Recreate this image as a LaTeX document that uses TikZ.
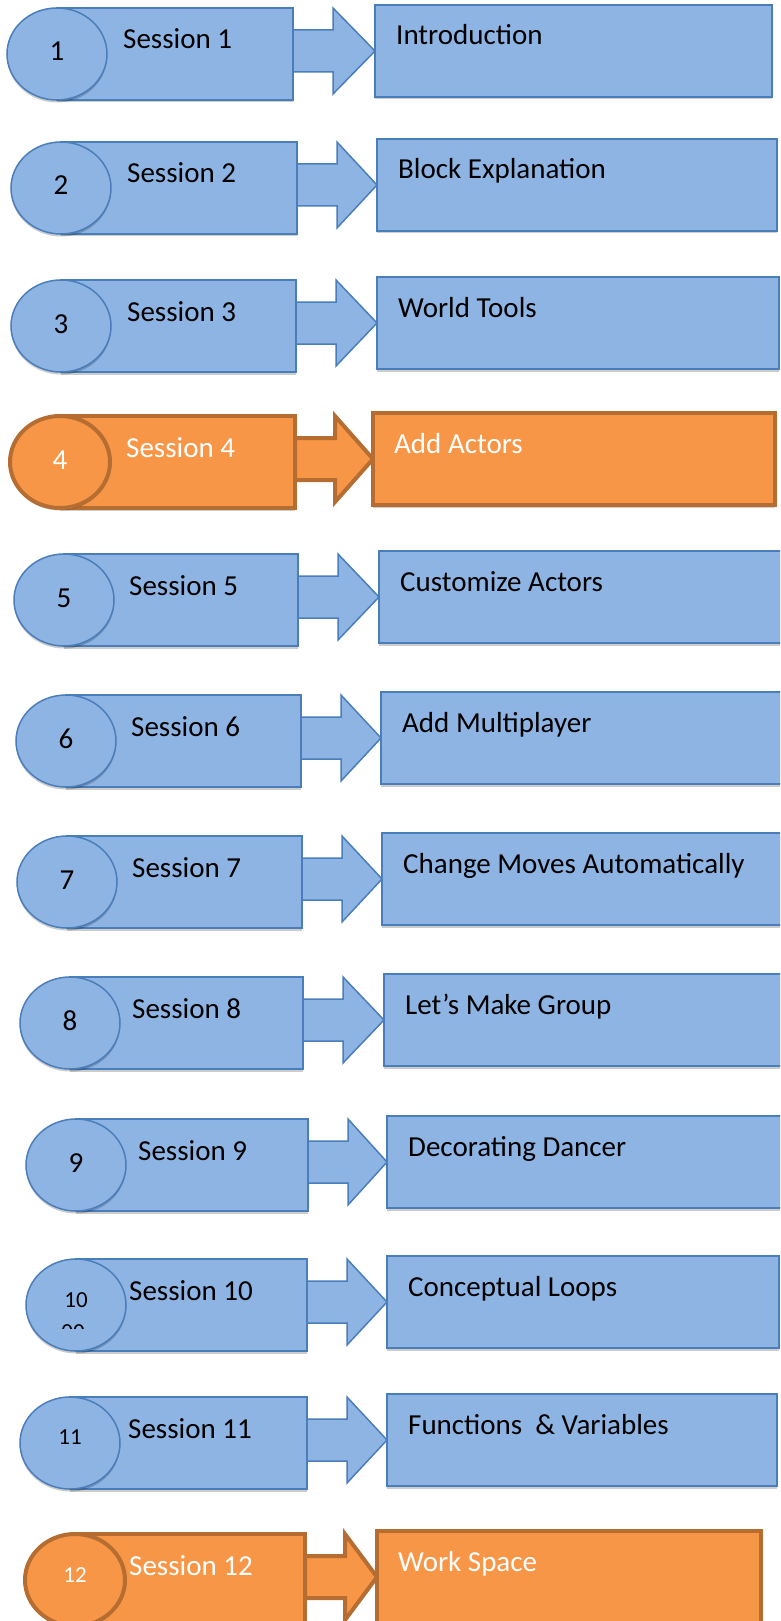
\documentclass[tikz,border=0pt]{standalone}
\usepackage{fontspec}
\setmainfont{Carlito}
\usetikzlibrary{shadows}
\definecolor{bfill}{HTML}{8EB4E3}
\definecolor{bline}{HTML}{4A7EBB}
\definecolor{ofill}{HTML}{F79646}
\definecolor{oline}{HTML}{B66D31}
\tikzset{
  blueshape/.style={fill=bfill, draw=bline, line width=1.5pt},
  orangeshape/.style={fill=ofill, draw=oline, line width=4pt},
  shad/.style={drop shadow={shadow xshift=0pt, shadow yshift=-2.5pt, opacity=0.2, fill=black}},
  sesstext/.style={anchor=base west, inner sep=0pt, font=\fontsize{29}{34}\selectfont},
  numtext/.style={anchor=base, inner sep=0pt, font=\fontsize{29}{34}\selectfont},
  smallnum/.style={anchor=base, inner sep=0pt, font=\fontsize{23}{28}\selectfont},
  boxtext/.style={anchor=base west, inner sep=0pt, font=\fontsize{29}{34}\selectfont},
}
\begin{document}
\begin{tikzpicture}[x=1pt,y=-1pt]
\useasboundingbox (0,0) rectangle (780,1621);
\clip (0,0) rectangle (780,1621);
\foreach \T/\L/\R/\X/\BR/\st/\tc/\n/\ns/\nb/\sx/\ttl in {
  8/7/293/375/772/blueshape/black/1/numtext/53/123/{Introduction},
  142/11/297/377/777/blueshape/black/2/numtext/53/127/{Block Explanation},
  280/11/296/377/779/blueshape/black/3/numtext/53/127/{World Tools},
  416/10/295/373/775/orangeshape/white/4/numtext/53/126/{Add Actors},
  554/14/298/379/783/blueshape/black/5/numtext/53/129/{Customize Actors},
  695/16/301/381/783/blueshape/black/6/numtext/53/131/{Add Multiplayer},
  836/17/302/382/783/blueshape/black/7/numtext/53/132/{Change Moves Automatically},
  977/20/303/384/783/blueshape/black/8/numtext/53/132/{Let’s Make Group},
  1119/26/308/387/783/blueshape/black/9/numtext/53/138/{Decorating Dancer},
  1259/26/307/387/779/blueshape/black/10/smallnum/48/129/{Conceptual Loops},
  1397/20/307/387/777/blueshape/black/11/smallnum/47/128/{Functions\ \ \& Variables},
  1534/25/305/377/761/orangeshape/white/12/smallnum/48/129/{Work Space}}
{
  % session bar
  \path[\st,shad] (\L+50,\T) rectangle (\R,\T+92);
  % number ellipse
  \path[\st,shad] (\L+50,\T+46) ellipse [x radius=50pt, y radius=46pt];
  % block arrow
  \path[\st,line join=miter] (\R,\T+22) -- (\R+40,\T+22) -- (\R+40,\T) -- (\X,\T+43)
     -- (\R+40,\T+86) -- (\R+40,\T+64) -- (\R,\T+64) -- cycle;
  % topic box
  \path[\st,shad] (\X,\T-3) rectangle (\BR,\T+89);
  % texts
  \node[\ns,text=\tc] (num\n) at (\L+50,\T+\nb) {\n};
  \node[sesstext,text=\tc] (sess\n) at (\sx,\T+41) {Session \n};
  \node[boxtext,text=\tc] (topic\n) at (\X+21,\T+37) {\ttl};
}
% clipped second line inside circle 10
\begin{scope}
  \clip (20,1259) rectangle (140,1328);
  \node[smallnum] (num10b) at (73,1339) {00};
\end{scope}
\end{tikzpicture}
\end{document}
